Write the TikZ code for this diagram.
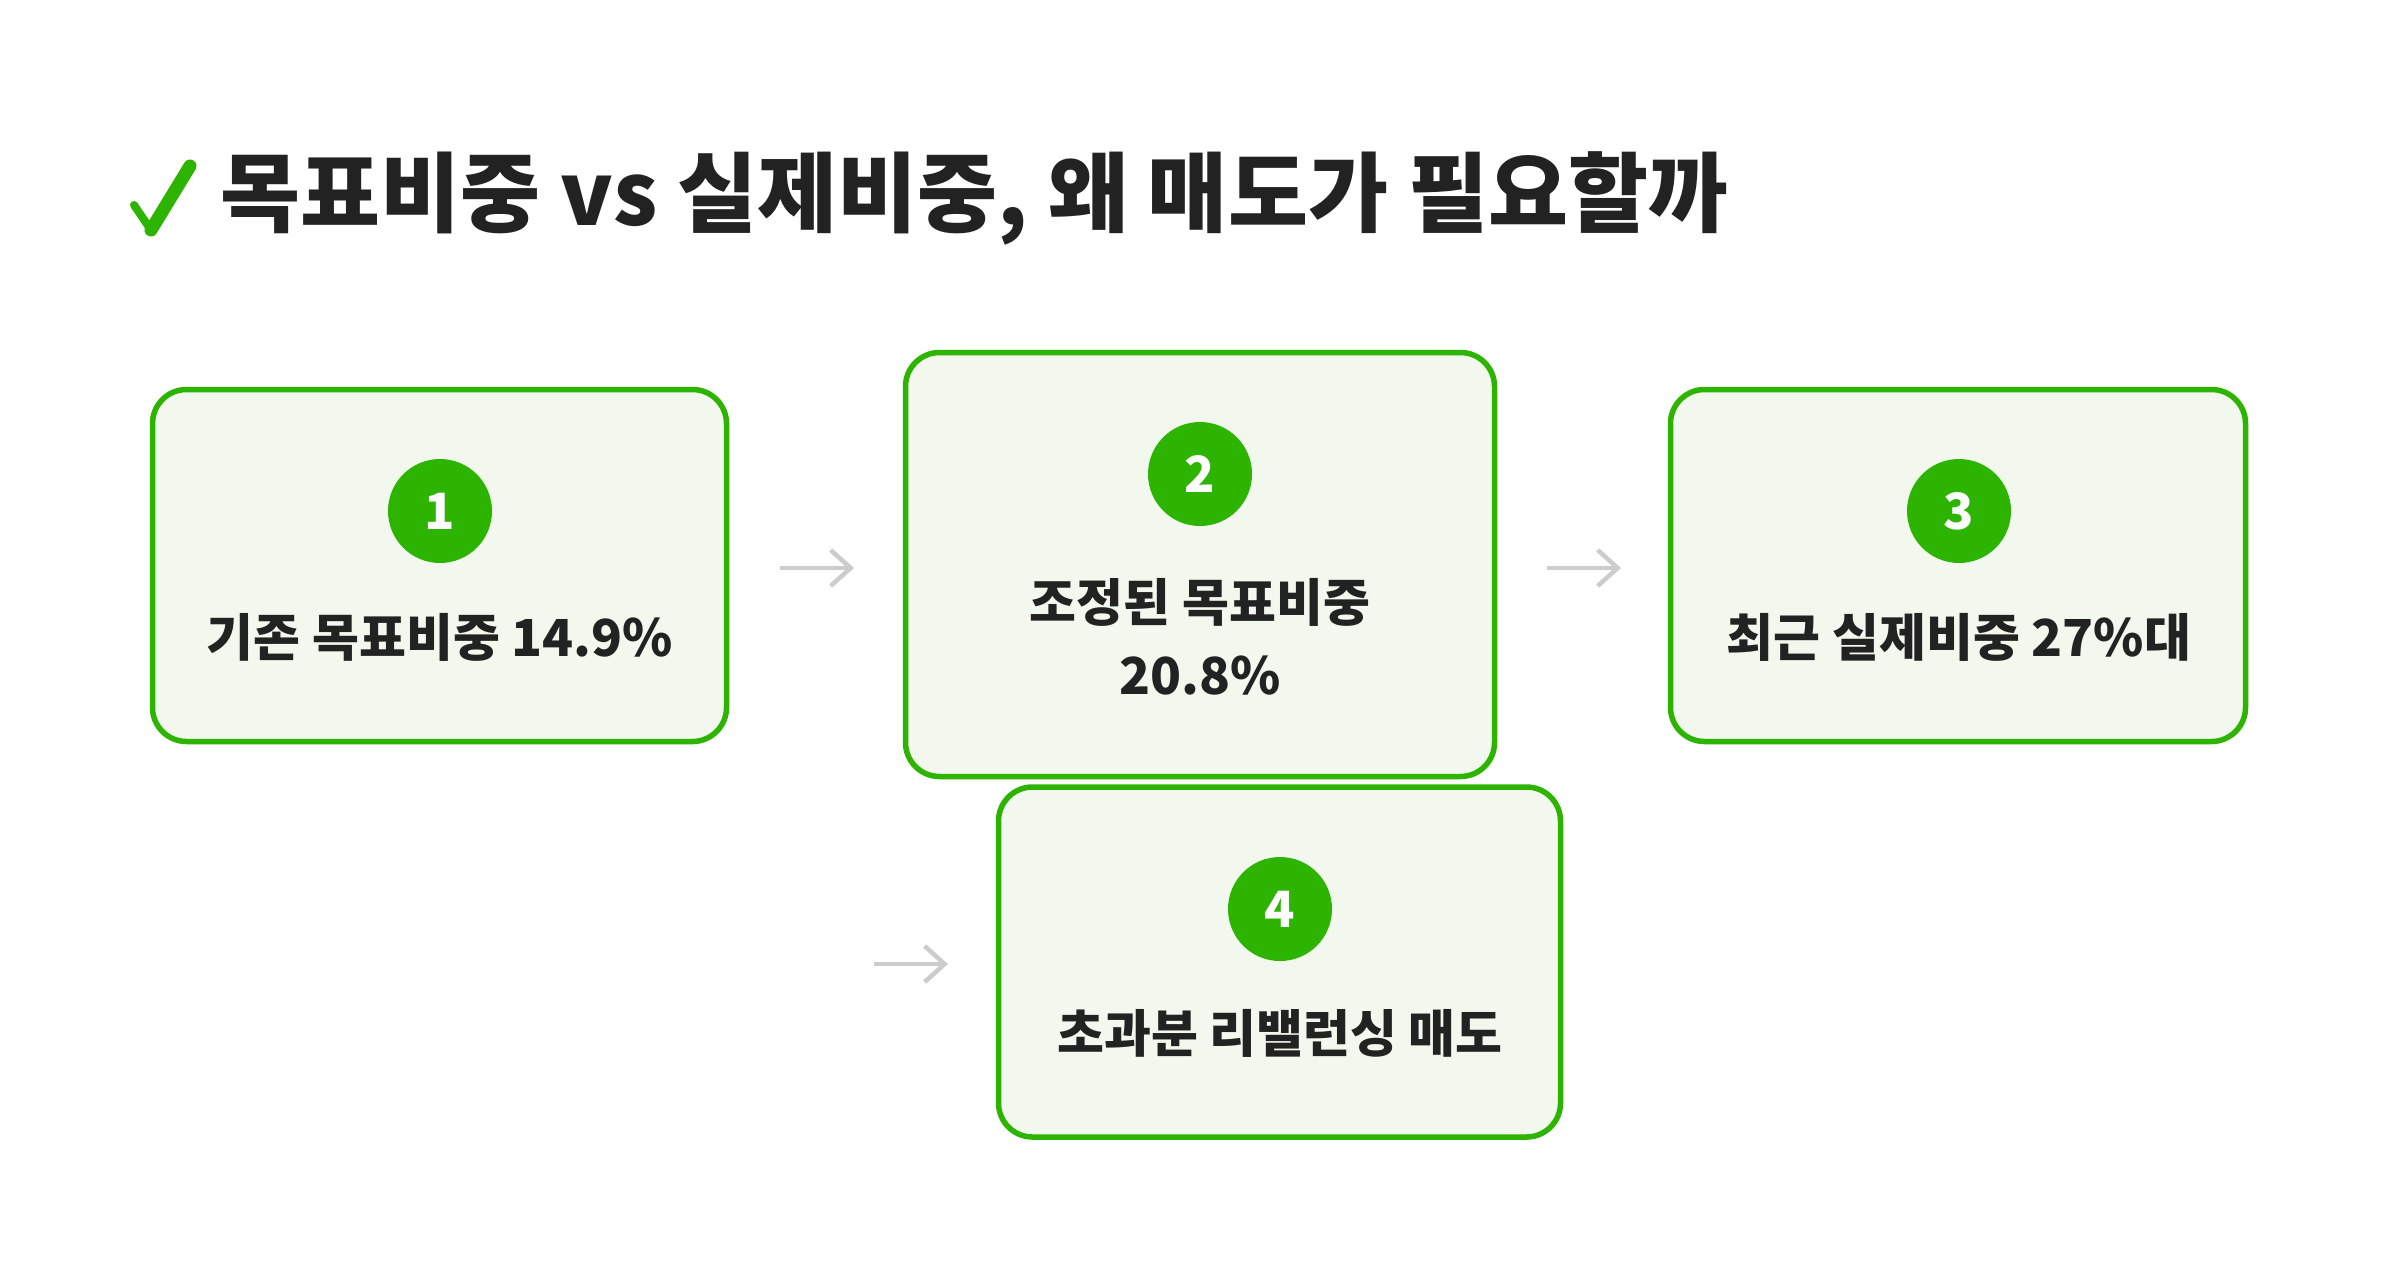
\documentclass[tikz,border=0pt]{standalone}
\usepackage{fontspec}
\setmainfont{Noto Sans CJK KR}
\usetikzlibrary{arrows.meta}
\definecolor{grn}{HTML}{2DB400}
\definecolor{boxfill}{HTML}{F2F8EE}
\definecolor{txt}{HTML}{222222}
\definecolor{arrg}{HTML}{CCCCCC}
\tikzset{
  card/.style={draw=grn, line width=5.5pt, fill=boxfill, rounded corners=34pt, inner sep=0pt},
  badge/.style={circle, fill=grn, minimum size=104pt, inner sep=0pt, text=white, font=\fontsize{50}{60}\selectfont\bfseries},
  lbl/.style={text=txt, font=\fontsize{51}{73}\selectfont\bfseries, align=center, inner sep=0pt},
  flow/.style={draw=arrg, line width=4.5pt, -{Straight Barb[length=20pt,width=36pt,line width=4.5pt]}},
}
\begin{document}
\begin{tikzpicture}[x=1pt,y=-1pt]
\useasboundingbox[fill=white] (0,0) rectangle (2400,1270);
% title
\draw[grn, line width=8pt, line cap=round, line join=round] (134,205) -- (151,230);
\draw[grn, line width=13pt, line cap=round, line join=round] (151,230) -- (190,166);
\node[anchor=west, inner sep=0pt, text=txt, font=\fontsize{87}{100}\selectfont\bfseries] (title) at (220,198) {목표비중 vs 실제비중, 왜 매도가 필요할까};
% boxes
\node[card, minimum width=574pt, minimum height=352pt] (b1) at (439.5,565.5) {};
\node[card, minimum width=589pt, minimum height=424pt] (b2) at (1200,564.5) {};
\node[card, minimum width=575pt, minimum height=352pt] (b3) at (1958,565.5) {};
\node[card, minimum width=562pt, minimum height=350pt] (b4) at (1279.5,962) {};
% badges
\node[badge] (c1) at (440,511) {1};
\node[badge] (c2) at (1200,474) {2};
\node[badge] (c3) at (1959,511) {3};
\node[badge] (c4) at (1280,909) {4};
% labels
\node[lbl] (t1) at (440,637) {기존 목표비중 14.9\%};
\node[lbl] (t2) at (1200,637) {조정된 목표비중\\20.8\%};
\node[lbl] (t3) at (1959,637) {최근 실제비중 27\%대};
\node[lbl] (t4) at (1280,1033) {초과분 리밸런싱 매도};
% arrows
\coordinate (a1s) at (780,568); \coordinate (a1e) at (854,568);
\coordinate (a2s) at (1547,568); \coordinate (a2e) at (1621,568);
\coordinate (a3s) at (874,964); \coordinate (a3e) at (948,964);
\draw[flow] (a1s) -- (a1e);
\draw[flow] (a2s) -- (a2e);
\draw[flow] (a3s) -- (a3e);
\end{tikzpicture}
\end{document}
